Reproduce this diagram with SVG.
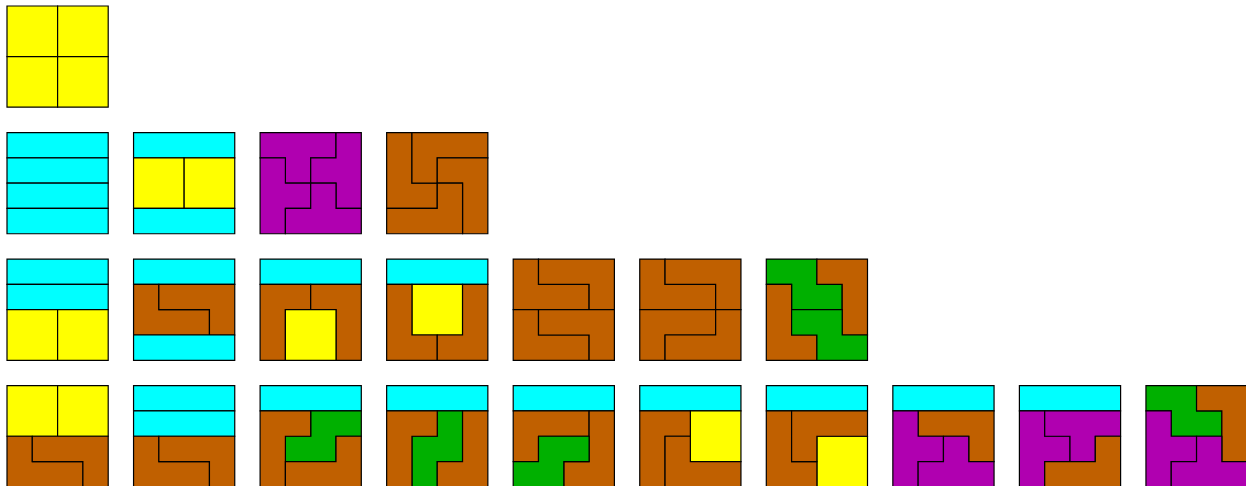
<svg xmlns="http://www.w3.org/2000/svg" width="1246" height="486" viewBox="0 0 1246 486">
<style>
rect, polygon { stroke: #000; stroke-width: 1.2; vector-effect: non-scaling-stroke; stroke-linejoin: miter; }
.y { fill: #ffff00; }
.c { fill: #00ffff; }
.p { fill: #b000b0; }
.b { fill: #c06000; }
.g { fill: #00b000; }
</style>
<rect x="0" y="0" width="1246" height="486" fill="#fff" style="stroke:none"/>

<g id="tile-r0-c0" transform="translate(7,6) scale(25.3)">
<rect class="y" x="0" y="0" width="2" height="2"/><rect class="y" x="2" y="0" width="2" height="2"/>
<rect class="y" x="0" y="2" width="2" height="2"/><rect class="y" x="2" y="2" width="2" height="2"/>
</g>

<g id="tile-r1-c0" transform="translate(7,132.55) scale(25.3)">
<rect class="c" x="0" y="0" width="4" height="1"/><rect class="c" x="0" y="1" width="4" height="1"/>
<rect class="c" x="0" y="2" width="4" height="1"/><rect class="c" x="0" y="3" width="4" height="1"/>
</g>
<g id="tile-r1-c1" transform="translate(133.55,132.55) scale(25.3)">
<rect class="c" x="0" y="0" width="4" height="1"/>
<rect class="y" x="0" y="1" width="2" height="2"/><rect class="y" x="2" y="1" width="2" height="2"/>
<rect class="c" x="0" y="3" width="4" height="1"/>
</g>
<g id="tile-r1-c2" transform="translate(260.1,132.55) scale(25.3)">
<polygon class="p" points="0,0 3,0 3,1 2,1 2,2 1,2 1,1 0,1"/>
<polygon class="p" points="3,0 4,0 4,3 3,3 3,2 2,2 2,1 3,1"/>
<polygon class="p" points="0,1 1,1 1,2 2,2 2,3 1,3 1,4 0,4"/>
<polygon class="p" points="2,2 3,2 3,3 4,3 4,4 1,4 1,3 2,3"/>
</g>
<g id="tile-r1-c3" transform="translate(386.65,132.55) scale(25.3)">
<polygon class="b" points="0,0 1,0 1,2 2,2 2,3 0,3"/>
<polygon class="b" points="1,0 4,0 4,1 2,1 2,2 1,2"/>
<polygon class="b" points="2,1 4,1 4,4 3,4 3,2 2,2"/>
<polygon class="b" points="2,2 3,2 3,4 0,4 0,3 2,3"/>
</g>

<g id="tile-r2-c0" transform="translate(7,259.1) scale(25.3)">
<rect class="c" x="0" y="0" width="4" height="1"/><rect class="c" x="0" y="1" width="4" height="1"/>
<rect class="y" x="0" y="2" width="2" height="2"/><rect class="y" x="2" y="2" width="2" height="2"/>
</g>
<g id="tile-r2-c1" transform="translate(133.55,259.1) scale(25.3)">
<rect class="c" x="0" y="0" width="4" height="1"/>
<polygon class="b" points="0,1 1,1 1,2 3,2 3,3 0,3"/>
<polygon class="b" points="1,1 4,1 4,3 3,3 3,2 1,2"/>
<rect class="c" x="0" y="3" width="4" height="1"/>
</g>
<g id="tile-r2-c2" transform="translate(260.1,259.1) scale(25.3)">
<rect class="c" x="0" y="0" width="4" height="1"/>
<polygon class="b" points="0,1 2,1 2,2 1,2 1,4 0,4"/>
<polygon class="b" points="2,1 4,1 4,4 3,4 3,2 2,2"/>
<rect class="y" x="1" y="2" width="2" height="2"/>
</g>
<g id="tile-r2-c3" transform="translate(386.65,259.1) scale(25.3)">
<rect class="c" x="0" y="0" width="4" height="1"/>
<rect class="y" x="1" y="1" width="2" height="2"/>
<polygon class="b" points="0,1 1,1 1,3 2,3 2,4 0,4"/>
<polygon class="b" points="3,1 4,1 4,4 2,4 2,3 3,3"/>
</g>
<g id="tile-r2-c4" transform="translate(513.2,259.1) scale(25.3)">
<polygon class="b" points="0,0 1,0 1,1 3,1 3,2 0,2"/>
<polygon class="b" points="1,0 4,0 4,2 3,2 3,1 1,1"/>
<polygon class="b" points="0,2 1,2 1,3 3,3 3,4 0,4"/>
<polygon class="b" points="1,2 4,2 4,4 3,4 3,3 1,3"/>
</g>
<g id="tile-r2-c5" transform="translate(639.75,259.1) scale(25.3)">
<polygon class="b" points="0,0 1,0 1,1 3,1 3,2 0,2"/>
<polygon class="b" points="1,0 4,0 4,2 3,2 3,1 1,1"/>
<polygon class="b" points="0,2 3,2 3,3 1,3 1,4 0,4"/>
<polygon class="b" points="3,2 4,2 4,4 1,4 1,3 3,3"/>
</g>
<g id="tile-r2-c6" transform="translate(766.3,259.1) scale(25.3)">
<polygon class="g" points="0,0 2,0 2,1 3,1 3,2 1,2 1,1 0,1"/>
<polygon class="b" points="2,0 4,0 4,3 3,3 3,1 2,1"/>
<polygon class="b" points="0,1 1,1 1,3 2,3 2,4 0,4"/>
<polygon class="g" points="1,2 3,2 3,3 4,3 4,4 2,4 2,3 1,3"/>
</g>

<g id="tile-r3-c0" transform="translate(7,385.65) scale(25.3)">
<rect class="y" x="0" y="0" width="2" height="2"/><rect class="y" x="2" y="0" width="2" height="2"/>
<polygon class="b" points="0,2 1,2 1,3 3,3 3,4 0,4"/>
<polygon class="b" points="1,2 4,2 4,4 3,4 3,3 1,3"/>
</g>
<g id="tile-r3-c1" transform="translate(133.55,385.65) scale(25.3)">
<rect class="c" x="0" y="0" width="4" height="1"/><rect class="c" x="0" y="1" width="4" height="1"/>
<polygon class="b" points="0,2 1,2 1,3 3,3 3,4 0,4"/>
<polygon class="b" points="1,2 4,2 4,4 3,4 3,3 1,3"/>
</g>
<g id="tile-r3-c2" transform="translate(260.1,385.65) scale(25.3)">
<rect class="c" x="0" y="0" width="4" height="1"/>
<polygon class="g" points="2,1 4,1 4,2 3,2 3,3 1,3 1,2 2,2"/>
<polygon class="b" points="0,1 2,1 2,2 1,2 1,4 0,4"/>
<polygon class="b" points="3,2 4,2 4,4 1,4 1,3 3,3"/>
</g>
<g id="tile-r3-c3" transform="translate(386.65,385.65) scale(25.3)">
<rect class="c" x="0" y="0" width="4" height="1"/>
<polygon class="g" points="2,1 3,1 3,3 2,3 2,4 1,4 1,2 2,2"/>
<polygon class="b" points="0,1 2,1 2,2 1,2 1,4 0,4"/>
<polygon class="b" points="3,1 4,1 4,4 2,4 2,3 3,3"/>
</g>
<g id="tile-r3-c4" transform="translate(513.2,385.65) scale(25.3)">
<rect class="c" x="0" y="0" width="4" height="1"/>
<polygon class="b" points="0,1 3,1 3,2 1,2 1,3 0,3"/>
<polygon class="b" points="3,1 4,1 4,4 2,4 2,3 3,3"/>
<polygon class="g" points="1,2 3,2 3,3 2,3 2,4 0,4 0,3 1,3"/>
</g>
<g id="tile-r3-c5" transform="translate(639.75,385.65) scale(25.3)">
<rect class="c" x="0" y="0" width="4" height="1"/>
<rect class="y" x="2" y="1" width="2" height="2"/>
<polygon class="b" points="0,1 2,1 2,2 1,2 1,4 0,4"/>
<polygon class="b" points="1,2 2,2 2,3 4,3 4,4 1,4"/>
</g>
<g id="tile-r3-c6" transform="translate(766.3,385.65) scale(25.3)">
<rect class="c" x="0" y="0" width="4" height="1"/>
<rect class="y" x="2" y="2" width="2" height="2"/>
<polygon class="b" points="0,1 1,1 1,3 2,3 2,4 0,4"/>
<polygon class="b" points="1,1 4,1 4,2 2,2 2,3 1,3"/>
</g>
<g id="tile-r3-c7" transform="translate(892.85,385.65) scale(25.3)">
<rect class="c" x="0" y="0" width="4" height="1"/>
<polygon class="b" points="1,1 4,1 4,3 3,3 3,2 1,2"/>
<polygon class="p" points="0,1 1,1 1,2 2,2 2,3 1,3 1,4 0,4"/>
<polygon class="p" points="2,2 3,2 3,3 4,3 4,4 1,4 1,3 2,3"/>
</g>
<g id="tile-r3-c8" transform="translate(1019.4,385.65) scale(25.3)">
<rect class="c" x="0" y="0" width="4" height="1"/>
<polygon class="p" points="0,1 1,1 1,2 2,2 2,3 1,3 1,4 0,4"/>
<polygon class="p" points="1,1 4,1 4,2 3,2 3,3 2,3 2,2 1,2"/>
<polygon class="b" points="3,2 4,2 4,4 1,4 1,3 3,3"/>
</g>
<g id="tile-r3-c9" transform="translate(1145.95,385.65) scale(25.3)">
<polygon class="g" points="0,0 2,0 2,1 3,1 3,2 1,2 1,1 0,1"/>
<polygon class="b" points="2,0 4,0 4,3 3,3 3,1 2,1"/>
<polygon class="p" points="0,1 1,1 1,2 2,2 2,3 1,3 1,4 0,4"/>
<polygon class="p" points="2,2 3,2 3,3 4,3 4,4 1,4 1,3 2,3"/>
</g>
<g id="connectors"/>
</svg>
